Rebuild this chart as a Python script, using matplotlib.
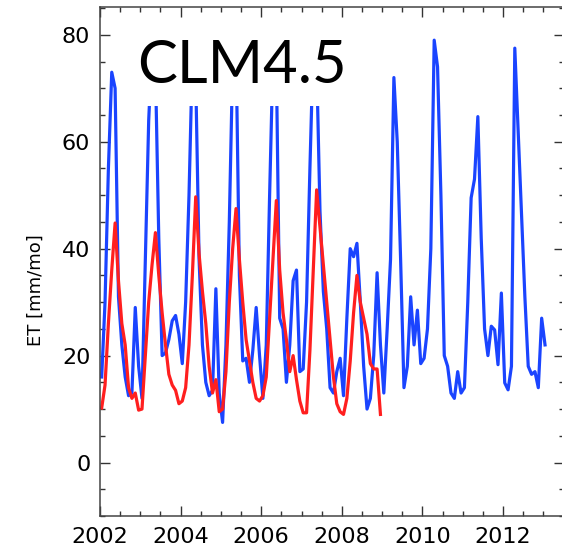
import numpy as np
import matplotlib.pyplot as plt
from matplotlib.ticker import MultipleLocator

# monthly ET [mm/mo], starting Jan 2002
start_year = 2002

# blue line (CLM4.5)
clm_et = [16, 30, 55, 73, 70, 31, 22, 16, 12.5, 13, 29, 18,
          12, 38, 64, 78, 74, 42, 20, 20.5, 23, 26.5, 27.5, 24,
          18.5, 30, 50, 76, 72, 38, 22, 15, 12.5, 13.5, 32.5, 13,
          7.5, 22, 45, 75, 78, 35, 19, 19.5, 15, 21, 29, 20,
          12, 22, 50, 76, 75, 27, 25, 15, 22, 34, 36, 17,
          17.5, 30, 55, 78, 75, 47, 32, 25, 14, 13, 17, 19.5,
          12.5, 27, 40, 38.5, 41, 30, 18, 10, 12, 20, 35.5, 22,
          13, 25, 38, 72, 60, 38, 14, 18, 31, 22, 28.5, 18.5,
          19.5, 25, 40, 79, 74, 50, 20, 18, 13, 12, 17, 13,
          14, 30, 49.5, 53, 64.7, 42, 25, 20, 25.5, 24.8, 18.3, 31.7,
          14.9, 13.6, 18, 77.5, 62, 47, 31, 18, 16.5, 17, 14, 27,
          22]

# red line
obs_et = [10.2, 14.5, 26, 36, 44.8, 34, 26, 22, 14, 12, 13, 9.8,
          10, 20, 30, 37, 43, 35, 28, 22, 16.5, 14.5, 13.5, 11,
          11.5, 14, 22, 35, 49.7, 39, 32, 26, 18, 13, 15.5, 9.5,
          10, 17, 30, 40, 47.5, 38, 30, 23, 19, 15, 12, 11.5,
          12.5, 16, 27, 38, 49, 36, 28, 23, 17, 20, 15.5, 11.5,
          9.3, 9.3, 21, 36, 51, 44, 37, 30, 23, 16, 11, 9.5,
          9, 12, 19, 28, 35, 30, 27, 24, 18.5, 17.5, 17.5, 9]

t_clm = start_year + (np.arange(len(clm_et)) + 0.5) / 12
t_obs = start_year + (np.arange(len(obs_et)) + 0.5) / 12

fig = plt.figure(figsize=(5.62, 5.51), dpi=100)
ax = fig.add_axes([100 / 562, 1 - 516 / 551, 463.5 / 562, 509 / 551])

ax.plot(t_clm, clm_et, color='#1a44ff', lw=2.3, zorder=2)
ax.plot(t_obs, obs_et, color='#ff1f1f', lw=2.3, zorder=2.05)

ax.set_xlim(2002, 2013.5)
ax.set_ylim(-10, 85.2)
ax.set_xticks(range(2002, 2013, 2))
ax.set_yticks(range(0, 81, 20))
ax.xaxis.set_minor_locator(MultipleLocator(0.5))
ax.yaxis.set_minor_locator(MultipleLocator(5))

ax.tick_params(which='both', direction='in', top=True, right=True,
               labelsize=16, width=1, color='#333333')
ax.tick_params(which='major', length=7)
ax.tick_params(which='minor', length=3.6)
ax.tick_params(axis='x', pad=8)
ax.tick_params(axis='y', pad=7)
for s in ax.spines.values():
    s.set_color('#444444')
    s.set_linewidth(1.1)

ax.set_ylabel('ET [mm/mo]', fontsize=13)
ax.yaxis.set_label_coords(-0.12, 0.444)

# model name label, white box hides the peaks behind it
ax.text(0.08, 0.851, 'CLM4.5', transform=ax.transAxes, fontsize=43,
        family='Lato', va='baseline', ha='left', zorder=2.1,
        bbox=dict(boxstyle='square,pad=0.22', fc='white', ec='none'))

fig.savefig('out.png', dpi=100)
